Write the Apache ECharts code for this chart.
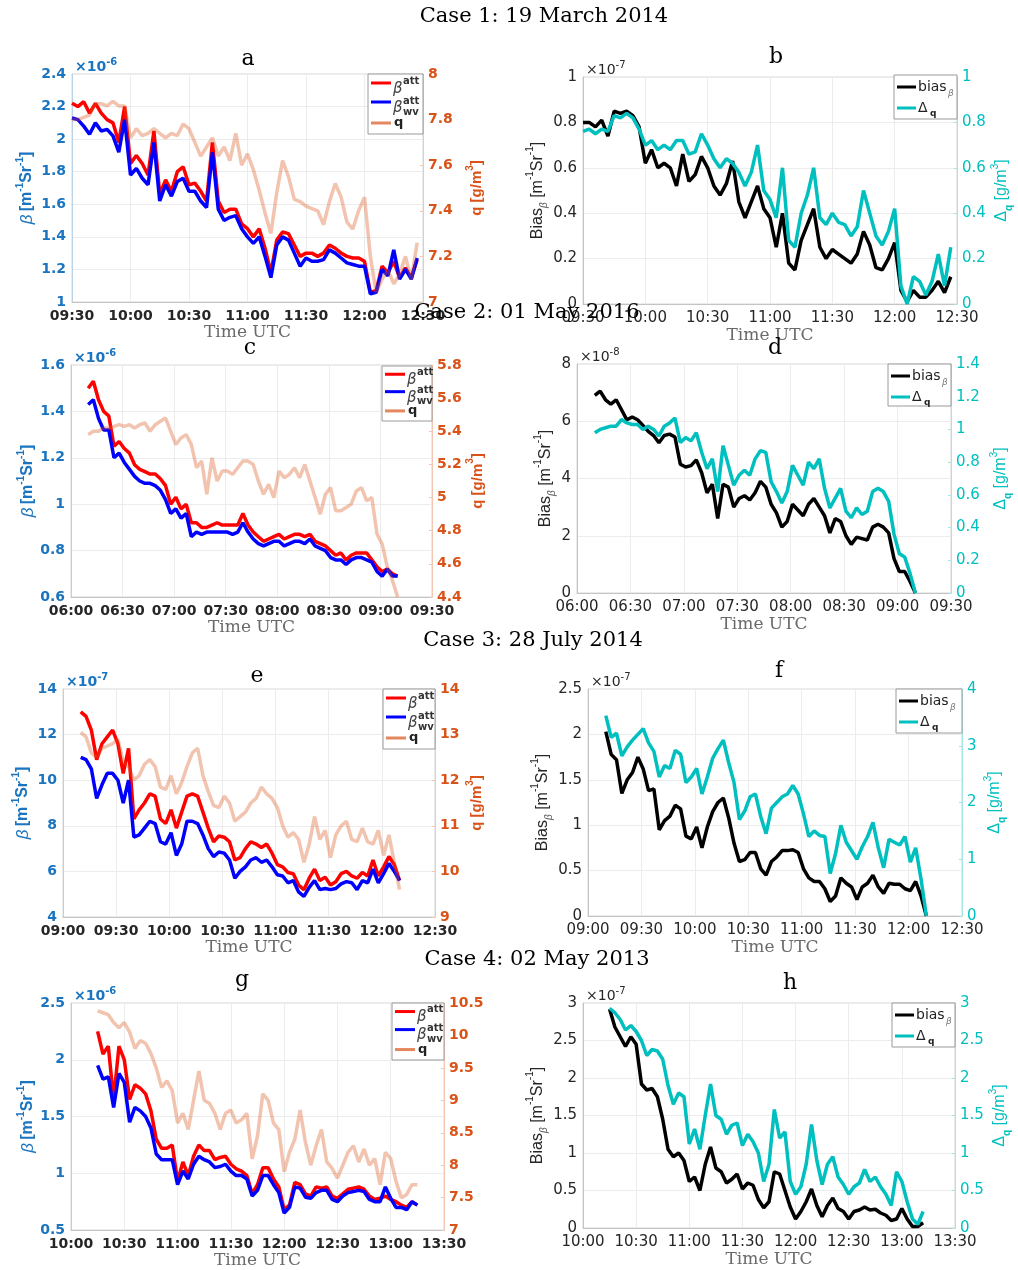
<!DOCTYPE html>
<html><head><meta charset="utf-8">
<script src="https://cdn.jsdelivr.net/npm/echarts/dist/echarts.min.js"></script>
<style>html,body{margin:0;padding:0;background:#fff}#chart{width:1018px;height:1270px}</style>
</head><body><div id="chart"></div>
<script>
// ---------------- DATA (3-minute samples) ----------------
const STEP_MIN = 3;
// Case 1 (19 March 2014)
const aStart = '09:30';
const aBetaAtt = [2.22,2.20,2.23,2.16,2.22,2.16,2.12,2.10,1.98,2.20, 1.85,1.90,1.85,1.78,2.05,1.66,1.75,1.68,1.80,1.83, 1.72,1.73,1.68,1.62,1.98,1.62,1.55,1.57,1.57,1.48, 1.45,1.40,1.45,1.33,1.18,1.38,1.43,1.42,1.35,1.28, 1.30,1.30,1.28,1.30,1.35,1.33,1.30,1.28,1.27,1.27, 1.25,1.06,1.07,1.22,1.18,1.25,1.15,1.21,1.15,1.26];
const aBetaWv  = [2.13,2.12,2.08,2.03,2.10,2.05,2.06,2.02,1.92,2.12, 1.78,1.82,1.76,1.72,1.98,1.62,1.72,1.65,1.74,1.76, 1.68,1.68,1.62,1.58,1.92,1.57,1.50,1.52,1.53,1.45, 1.40,1.36,1.40,1.28,1.15,1.35,1.40,1.38,1.30,1.22, 1.27,1.25,1.25,1.26,1.32,1.30,1.27,1.24,1.23,1.22, 1.22,1.05,1.06,1.20,1.16,1.32,1.14,1.20,1.14,1.27];
const aQ       = [7.80,7.80,7.81,7.82,7.87,7.87,7.86,7.88,7.86,7.86, 7.72,7.76,7.73,7.74,7.76,7.74,7.72,7.74,7.73,7.78, 7.76,7.70,7.64,7.68,7.72,7.64,7.68,7.62,7.74,7.60, 7.65,7.58,7.49,7.39,7.30,7.48,7.62,7.55,7.45,7.44, 7.42,7.41,7.40,7.34,7.44,7.52,7.46,7.35,7.32,7.40, 7.46,7.20,7.04,7.10,7.14,7.08,7.12,7.20,7.10,7.26];
const bStart = '09:30';
const bBias    = [0.80,0.80,0.78,0.81,0.74,0.85,0.84,0.85,0.83,0.78, 0.62,0.68,0.60,0.62,0.60,0.52,0.66,0.54,0.57,0.65, 0.60,0.52,0.48,0.53,0.63,0.45,0.38,0.45,0.52,0.42, 0.38,0.25,0.40,0.18,0.15,0.28,0.35,0.42,0.25,0.20, 0.24,0.22,0.20,0.18,0.22,0.32,0.26,0.16,0.15,0.20, 0.27,0.06,0.01,0.06,0.03,0.03,0.06,0.10,0.05,0.12];
const bDeltaQ  = [0.76,0.77,0.75,0.77,0.76,0.83,0.82,0.84,0.82,0.77, 0.70,0.72,0.68,0.70,0.68,0.72,0.72,0.66,0.67,0.75, 0.70,0.64,0.60,0.64,0.62,0.58,0.52,0.58,0.70,0.50, 0.46,0.38,0.60,0.28,0.25,0.40,0.48,0.60,0.38,0.35, 0.40,0.36,0.35,0.30,0.34,0.50,0.40,0.30,0.26,0.32, 0.42,0.08,0.00,0.12,0.10,0.04,0.10,0.22,0.08,0.25];
// Case 2 (01 May 2016)
const cStart = '06:10';
const cBetaAtt = [1.50,1.53,1.45,1.40,1.38,1.25,1.27,1.24,1.22,1.17, 1.15,1.14,1.13,1.13,1.11,1.08,1.00,1.03,0.98,1.00, 0.92,0.92,0.90,0.90,0.91,0.92,0.91,0.91,0.91,0.91, 0.96,0.91,0.88,0.86,0.84,0.85,0.86,0.87,0.85,0.86, 0.87,0.87,0.86,0.87,0.84,0.83,0.82,0.80,0.78,0.79, 0.76,0.78,0.79,0.79,0.79,0.76,0.73,0.71,0.72,0.70,0.69];
const cBetaWv  = [1.43,1.45,1.37,1.32,1.32,1.20,1.22,1.18,1.15,1.12, 1.10,1.09,1.09,1.08,1.06,1.02,0.96,0.98,0.94,0.96, 0.86,0.88,0.87,0.88,0.88,0.88,0.88,0.88,0.87,0.88, 0.92,0.88,0.85,0.83,0.82,0.83,0.84,0.84,0.82,0.83, 0.84,0.84,0.83,0.85,0.82,0.81,0.80,0.77,0.76,0.76, 0.74,0.76,0.77,0.77,0.76,0.75,0.71,0.69,0.72,0.69,0.69];
const cQ       = [5.38,5.40,5.40,5.42,5.42,5.43,5.44,5.43,5.44,5.42, 5.44,5.45,5.40,5.44,5.46,5.48,5.40,5.32,5.36,5.38, 5.32,5.18,5.22,5.02,5.24,5.10,5.16,5.16,5.14,5.18, 5.22,5.22,5.20,5.10,5.02,5.08,5.00,5.16,5.12,5.14, 5.18,5.12,5.20,5.10,5.00,4.90,5.02,5.06,4.92,4.92, 4.94,4.96,5.04,5.06,4.98,5.00,4.78,4.72,4.58,4.50,4.40];
const dStart = '06:10';
const dBias    = [6.90,7.05,6.75,6.60,6.75,6.40,6.05,6.15,6.05,5.85, 5.65,5.50,5.25,5.50,5.55,5.45,4.50,4.40,4.45,4.65, 4.20,3.50,3.80,2.60,3.80,3.70,3.00,3.30,3.40,3.25, 3.50,3.90,3.70,3.10,2.80,2.30,2.50,3.10,2.90,2.70, 3.10,3.30,3.00,2.70,2.10,2.60,2.50,2.00,1.70,1.95, 1.90,1.85,2.30,2.40,2.30,2.10,1.20,0.75,0.75,0.40,0.00];
const dDeltaQ  = [0.98,1.00,1.01,1.02,1.02,1.06,1.04,1.03,1.03,1.00, 1.02,1.00,0.96,1.02,1.04,1.07,0.92,0.95,0.93,0.98, 0.86,0.76,0.82,0.62,0.90,0.78,0.66,0.72,0.75,0.72, 0.82,0.87,0.86,0.68,0.62,0.55,0.62,0.78,0.72,0.66, 0.80,0.76,0.82,0.64,0.52,0.58,0.64,0.50,0.46,0.52, 0.48,0.50,0.62,0.64,0.62,0.56,0.36,0.24,0.22,0.12,0.00];
// Case 3 (28 July 2014)
const eStart = '09:10';
const eBetaAtt = [13.0,12.8,12.2,10.9,11.6,11.9,12.2,11.6,10.3,11.4, 8.3,8.7,9.0,9.4,9.3,8.3,8.1,8.7,7.9,8.6, 9.3,9.4,9.3,8.6,7.9,7.3,7.55,7.5,7.3,6.5, 6.6,7.0,7.3,7.2,7.05,7.2,6.8,6.3,6.2,5.95, 5.9,5.4,5.2,5.7,6.1,5.6,5.75,5.4,5.55,5.9, 6.0,5.8,5.7,5.95,5.8,6.5,5.8,6.2,6.65,6.3,5.6];
const eBetaWv  = [11.0,10.9,10.5,9.2,9.8,10.3,10.3,10.0,9.0,10.0, 7.5,7.6,7.9,8.2,8.1,7.3,7.2,7.7,6.7,7.2, 8.2,8.2,8.1,7.6,7.0,6.65,6.85,6.8,6.5,5.7, 6.0,6.2,6.5,6.6,6.4,6.5,6.2,5.85,5.8,5.5, 5.6,5.1,4.9,5.3,5.6,5.2,5.25,5.2,5.25,5.45, 5.55,5.5,5.2,5.6,5.5,6.1,5.5,5.9,6.35,6.0,5.6];
const eQ       = [13.05,12.95,12.6,12.5,12.7,12.75,12.8,12.9,12.4,12.3, 12.0,12.1,12.35,12.45,12.3,11.85,11.8,12.1,11.7,11.95, 12.3,12.6,12.7,12.1,11.75,11.45,11.4,11.65,11.5,11.1, 11.2,11.3,11.5,11.6,11.85,11.7,11.6,11.4,11.0,10.75, 10.85,10.7,10.2,10.6,11.2,10.7,10.9,10.3,10.8,11.0, 11.1,10.7,10.65,10.95,10.65,10.6,10.9,10.35,10.8,10.2,9.6];
const fStart = '09:10';
const fBias    = [2.03,1.78,1.72,1.35,1.50,1.58,1.75,1.62,1.38,1.40, 0.95,1.05,1.10,1.22,1.18,0.88,0.85,0.98,0.75,0.98, 1.15,1.25,1.30,1.08,0.80,0.60,0.62,0.70,0.70,0.52, 0.45,0.60,0.65,0.72,0.72,0.73,0.70,0.52,0.42,0.38, 0.38,0.30,0.16,0.22,0.42,0.36,0.32,0.18,0.32,0.36, 0.45,0.32,0.25,0.36,0.35,0.35,0.30,0.28,0.38,0.22,0.00];
const fDeltaQ  = [3.53,3.15,3.22,2.82,2.98,3.10,3.20,3.30,3.05,2.90, 2.45,2.65,2.60,2.92,2.85,2.35,2.45,2.60,2.15,2.45, 2.78,2.95,3.10,2.70,2.35,1.70,1.85,2.10,2.15,1.75, 1.45,1.90,2.00,2.10,2.15,2.30,2.15,1.80,1.40,1.50, 1.42,1.40,0.75,1.10,1.60,1.30,1.15,1.00,1.22,1.40, 1.65,1.20,0.85,1.35,1.30,1.25,1.40,0.95,1.20,0.65,0.00];
// Case 4 (02 May 2013)
const gStart = '10:15';
const gBetaAtt = [2.25,2.05,2.12,1.65,2.12,2.00,1.65,1.78,1.75,1.70, 1.55,1.30,1.22,1.22,1.25,0.93,1.10,0.98,1.15,1.25, 1.20,1.20,1.12,1.14,1.15,1.08,1.04,1.02,0.98,0.82, 0.90,1.05,1.05,0.95,0.88,0.68,0.72,0.92,0.90,0.82, 0.80,0.88,0.87,0.88,0.80,0.78,0.82,0.86,0.87,0.88, 0.86,0.80,0.77,0.78,0.80,0.77,0.75,0.72,0.70,0.75,0.72];
const gBetaWv  = [1.95,1.83,1.85,1.58,1.88,1.80,1.45,1.58,1.55,1.50, 1.40,1.17,1.12,1.12,1.12,0.90,1.02,0.95,1.08,1.15, 1.12,1.10,1.05,1.06,1.08,1.02,0.98,0.98,0.95,0.80, 0.85,0.98,0.98,0.90,0.83,0.65,0.70,0.88,0.87,0.79, 0.78,0.83,0.85,0.85,0.77,0.75,0.80,0.83,0.84,0.85, 0.84,0.77,0.75,0.75,0.88,0.78,0.70,0.70,0.68,0.75,0.72];
const gQ       = [10.38,10.35,10.32,10.20,10.12,10.20,10.05,9.80,9.92,9.88, 9.72,9.50,9.20,9.30,9.15,8.65,8.80,8.55,9.00,9.45, 9.00,8.95,8.80,8.55,8.80,8.85,8.65,8.70,8.80,8.10, 8.45,9.10,9.00,8.65,8.55,7.90,8.20,8.40,8.85,8.35, 8.00,8.30,8.55,8.05,7.95,7.80,8.00,8.20,8.30,8.05, 8.25,8.00,8.10,7.70,8.20,8.10,7.75,7.50,7.55,7.70,7.70];
const hStart = '10:15';
const hBias    = [2.92,2.68,2.55,2.42,2.55,2.45,1.92,1.84,1.86,1.75, 1.45,1.05,0.95,1.00,0.90,0.62,0.68,0.50,0.85,1.08, 0.80,0.75,0.60,0.65,0.72,0.52,0.60,0.57,0.38,0.27, 0.35,0.75,0.72,0.50,0.28,0.12,0.22,0.35,0.52,0.30, 0.15,0.30,0.40,0.26,0.22,0.12,0.22,0.24,0.28,0.24, 0.25,0.20,0.17,0.10,0.12,0.26,0.12,0.02,0.02,0.07];
const hDeltaQ  = [2.93,2.87,2.78,2.64,2.70,2.62,2.50,2.30,2.38,2.36, 2.25,1.90,1.65,1.80,1.75,1.12,1.32,1.05,1.50,1.92, 1.50,1.45,1.25,1.37,1.40,1.10,1.25,1.15,1.00,0.62, 0.85,1.58,1.20,1.28,0.62,0.45,0.55,0.85,1.38,0.90, 0.58,0.85,0.95,0.68,0.58,0.45,0.55,0.60,0.78,0.62, 0.68,0.55,0.45,0.30,0.75,0.62,0.35,0.12,0.05,0.22];

// Titles / text
const caseTitles = ['Case 1: 19 March 2014','Case 2: 01 May 2016','Case 3: 28 July 2014','Case 4: 02 May 2013'];
const panelLetters = ['a','b','c','d','e','f','g','h'];
const expLabels = ['-6','-7','-6','-8','-7','-7','-6','-7'];
// axis ranges: [min, max, interval]
const xRanges = [['09:30','12:30'],['09:30','12:30'],['06:00','09:30'],['06:00','09:30'],['09:00','12:30'],['09:00','12:30'],['10:00','13:30'],['10:00','13:30']];
const yLeftRanges  = [[1,2.4,0.2],[0,1,0.2],[0.6,1.6,0.2],[0,8,2],[4,14,2],[0,2.5,0.5],[0.5,2.5,0.5],[0,3,0.5]];
const yRightRanges = [[7,8,0.2],[0,1,0.2],[4.4,5.8,0.2],[0,1.4,0.2],[9,14,1],[0,4,1],[7,10.5,0.5],[0,3,0.5]];

// ---------------- LAYOUT ----------------
const LAYOUT = [
  {rect:[72,74,351,228],  gapL:33, gapR:42, xGap:18, leg:[55,60,0],  letter:[248,59]},
  {rect:[583,77,374,227], gapL:25, gapR:32, xGap:20, leg:[63,44,-2], letter:[776,57]},
  {rect:[71,365,361,232], gapL:31, gapR:33, xGap:18, leg:[50,55,1],  letter:[250,348]},
  {rect:[577,364,374,229],gapL:14, gapR:38, xGap:20, leg:[63,42,0],  letter:[775,348]},
  {rect:[63,689,372,228], gapL:28, gapR:30, xGap:20, leg:[52,60,0],  letter:[257,676]},
  {rect:[588,689,374,227],gapL:30, gapR:21, xGap:21, leg:[66,44,0],  letter:[779,671]},
  {rect:[71,1003,373,229],gapL:31, gapR:null,xGap:18, leg:[52,57,0], letter:[242,980]},
  {rect:[583,1003,372,225],gapL:20, gapR:27, xGap:23, leg:[63,44,0], letter:[790,983]}
];
const caseTitlePos = [[544,17],[527,313],[533,641],[537,960]];

const BLUE_TXT = '#1a74bf', ORANGE_TXT = '#d95319', CYAN = '#00bfbf', DARK = '#262626';
const LINE_W = 3.5;

function toMin(s){const p=s.split(':').map(Number);return p[0]*60+p[1];}
function hhmm(v){const h=Math.floor(v/60),m=Math.round(v-h*60);return String(h).padStart(2,'0')+':'+String(m).padStart(2,'0');}
function pairs(start, vals){const t0=toMin(start);return vals.map((v,i)=>[t0+i*STEP_MIN, v]);}

const PANEL_SERIES = [
  {kind:'beta', start:aStart, att:aBetaAtt, wv:aBetaWv, q:aQ},
  {kind:'bias', start:bStart, bias:bBias, dq:bDeltaQ},
  {kind:'beta', start:cStart, att:cBetaAtt, wv:cBetaWv, q:cQ},
  {kind:'bias', start:dStart, bias:dBias, dq:dDeltaQ},
  {kind:'beta', start:eStart, att:eBetaAtt, wv:eBetaWv, q:eQ},
  {kind:'bias', start:fStart, bias:fBias, dq:fDeltaQ},
  {kind:'beta', start:gStart, att:gBetaAtt, wv:gBetaWv, q:gQ},
  {kind:'bias', start:hStart, bias:hBias, dq:hDeltaQ}
];

const option = {animation:false, backgroundColor:'#ffffff', grid:[], xAxis:[], yAxis:[], series:[], graphic:[]};

function richSet(color, size, bold){
  const fw = bold ? 'bold' : 'normal';
  return {
    n:{fontFamily:'Liberation Sans', fontSize:size, fontWeight:fw, color:color, lineHeight:24},
    i:{fontFamily:'Liberation Sans', fontSize:size+1, fontStyle:'italic', color:color, lineHeight:24},
    s:{fontFamily:'Liberation Sans', fontSize:10, fontWeight:fw, color:color, verticalAlign:'top'},
    u:{fontFamily:'Liberation Sans', fontSize:10, fontStyle:'italic', color:'#555', verticalAlign:'bottom'},
    ub:{fontFamily:'Liberation Sans', fontSize:10, fontWeight:'bold', color:color, verticalAlign:'bottom'}
  };
}

function txt(x,y,text,opt){
  return Object.assign({type:'text', x:x, y:y, z:200, style:Object.assign({text:text, fill:DARK, fontFamily:'DejaVu Sans', fontSize:14, verticalAlign:'middle', align:'left'}, opt||{})});
}
function seg(x1,x2,y,color,opacity){
  return {type:'line', z:200, shape:{x1:x1,y1:y,x2:x2,y2:y}, style:{stroke:color, lineWidth:3, opacity:opacity||1}};
}

PANEL_SERIES.forEach((p,i)=>{
  const L = LAYOUT[i];
  const [gl,gt,gw,gh] = L.rect;
  const beta = p.kind === 'beta';
  option.grid.push({left:gl, top:gt, width:gw, height:gh, show:true, borderColor:'#d6d6d6', borderWidth:1});
  option.xAxis.push({
    type:'value', gridIndex:i, min:toMin(xRanges[i][0]), max:toMin(xRanges[i][1]), interval:30,
    axisLine:{show:true, lineStyle:{color:'#c4c4c4'}}, axisTick:{show:false},
    axisLabel:{formatter:hhmm, color:DARK, fontFamily:'DejaVu Sans', fontSize:beta?14:15, fontWeight:beta?'bold':'normal', margin:7},
    splitLine:{show:true, lineStyle:{color:'#ececec'}},
    name:'Time UTC', nameLocation:'middle', nameGap:L.xGap,
    nameTextStyle:{fontFamily:'DejaVu Serif', fontSize:17, color:'#6a6a6a'}
  });
  const yl = yLeftRanges[i], yr = yRightRanges[i];
  option.yAxis.push({
    type:'value', gridIndex:i, position:'left', min:yl[0], max:yl[1], interval:yl[2],
    axisLine:{show:true, lineStyle:{color: beta ? '#b9d2e8' : '#c4c4c4'}}, axisTick:{show:false},
    axisLabel:{color: beta?BLUE_TXT:DARK, fontFamily:'DejaVu Sans', fontSize:beta?14:15, fontWeight:beta?'bold':'normal', margin:6},
    splitLine:{show:true, lineStyle:{color:'#ececec'}},
    name: beta ? '{i|β} {n|[m}{s|-1}{n|Sr}{s|-1}{n|]}' : '{n|Bias}{u|β}{n| [m}{s|-1}{n|Sr}{s|-1}{n|]}',
    nameLocation:'middle', nameGap:L.gapL, nameRotate:90,
    nameTextStyle:{color: beta?BLUE_TXT:DARK, rich: richSet(beta?BLUE_TXT:DARK, beta?16:16, beta)}
  });
  const rightName = beta ? '{n|q [g/m}{s|3}{n|]}' : '{n|Δ}{ub|q}{n| [g/m}{s|3}{n|]}';
  option.yAxis.push({
    type:'value', gridIndex:i, position:'right', min:yr[0], max:yr[1], interval:yr[2],
    axisLine:{show:true, lineStyle:{color: beta ? '#f3c6b2' : '#a6e3e3'}},
    axisTick:{show:true, inside:true, length:3, lineStyle:{color: beta ? '#f3c6b2' : '#a6e3e3'}},
    axisLabel:{color: beta?ORANGE_TXT:CYAN, fontFamily:'DejaVu Sans', fontSize:beta?14:15, fontWeight:beta?'bold':'normal', margin:5},
    splitLine:{show:false},
    name: L.gapR === null ? '' : rightName,
    nameLocation:'middle', nameGap: L.gapR || 30, nameRotate:90,
    nameTextStyle:{color: beta?ORANGE_TXT:CYAN, rich: richSet(beta?ORANGE_TXT:CYAN, beta?15:16, beta)}
  });
  const yL = 2*i, yR = 2*i+1;
  const base = {type:'line', xAxisIndex:i, showSymbol:false, symbol:'none', clip:true, silent:true};
  if (beta){
    option.series.push(Object.assign({}, base, {name:'att'+i, yAxisIndex:yL, data:pairs(p.start,p.att), lineStyle:{color:'#ff0000', width:LINE_W}, z:2}));
    option.series.push(Object.assign({}, base, {name:'wv'+i, yAxisIndex:yL, data:pairs(p.start,p.wv), lineStyle:{color:'#0000ff', width:LINE_W}, z:3}));
    option.series.push(Object.assign({}, base, {name:'q'+i, yAxisIndex:yR, data:pairs(p.start,p.q), lineStyle:{color:'#d95319', width:LINE_W, opacity:0.35}, z:4}));
  } else {
    option.series.push(Object.assign({}, base, {name:'bias'+i, yAxisIndex:yL, data:pairs(p.start,p.bias), lineStyle:{color:'#000000', width:LINE_W}, z:2}));
    option.series.push(Object.assign({}, base, {name:'dq'+i, yAxisIndex:yR, data:pairs(p.start,p.dq), lineStyle:{color:CYAN, width:LINE_W}, z:3}));
  }

  // exponent label
  option.graphic.push({type:'text', x:gl+3, y:gt-17, z:200, style:{
    text:'{n|×10}{s|'+expLabels[i]+'}', fill: beta?BLUE_TXT:DARK,
    rich:{n:{fontFamily:'DejaVu Sans', fontSize:14, fontWeight:beta?'bold':'normal', color:beta?BLUE_TXT:'#444', lineHeight:20},
          s:{fontFamily:'DejaVu Sans', fontSize:10, fontWeight:beta?'bold':'normal', color:beta?BLUE_TXT:'#444', verticalAlign:'top'}}
  }});
  // panel letter
  option.graphic.push(txt(L.letter[0], L.letter[1], panelLetters[i], {fontFamily:'DejaVu Serif', fontSize:22, fill:'#000', align:'center'}));

  // legend box
  const [bw,bh,bdy] = L.leg;
  const bx = gl+gw-bw, by = gt+bdy;
  option.graphic.push({type:'rect', z:190, shape:{x:bx, y:by, width:bw, height:bh}, style:{fill:'#ffffff', stroke:'#9a9a9a', lineWidth:1}});
  if (beta){
    const k = bh/60;
    const y1 = by+9*k, y2 = by+28*k, y3 = by+49*k;
    option.graphic.push(seg(bx+3, bx+23, y1, '#ff0000'));
    option.graphic.push(seg(bx+3, bx+23, y2, '#0000ff'));
    option.graphic.push(seg(bx+3, bx+23, y3, '#d95319', 0.7));
    option.graphic.push(txt(bx+25, y1+6, 'β', {fontStyle:'italic', fontSize:15, fill:'#444'}));
    option.graphic.push(txt(bx+35, y1-2, 'att', {fontWeight:'bold', fontSize:10, fill:'#333'}));
    option.graphic.push(txt(bx+25, y2+6, 'β', {fontStyle:'italic', fontSize:15, fill:'#444'}));
    option.graphic.push(txt(bx+35, y2-1, 'att', {fontWeight:'bold', fontSize:10, fill:'#333'}));
    option.graphic.push(txt(bx+35, y2+10, 'wv', {fontWeight:'bold', fontSize:10, fill:'#333'}));
    option.graphic.push(txt(bx+26, y3, 'q', {fontWeight:'bold', fontSize:13, fill:'#222'}));
  } else {
    const y1 = by+12, y2 = by+33;
    option.graphic.push(seg(bx+3, bx+22, y1, '#000000'));
    option.graphic.push(seg(bx+3, bx+22, y2, CYAN));
    option.graphic.push(txt(bx+24, y1, 'bias', {fontSize:14, fill:'#222'}));
    option.graphic.push(txt(bx+54, y1+7, 'β', {fontStyle:'italic', fontSize:9, fill:'#777'}));
    option.graphic.push(txt(bx+24, y2, 'Δ', {fontSize:14, fill:'#222'}));
    option.graphic.push(txt(bx+36, y2+6, 'q', {fontWeight:'bold', fontSize:9, fill:'#222'}));
  }
});

caseTitles.forEach((t,i)=>{
  option.graphic.push(txt(caseTitlePos[i][0], caseTitlePos[i][1], t, {fontFamily:'DejaVu Serif', fontSize:21, fill:'#000', align:'center'}));
});

const chart = echarts.init(document.getElementById('chart'), null, {renderer:'canvas', width:1018, height:1270});
chart.setOption(option);
</script></body></html>
